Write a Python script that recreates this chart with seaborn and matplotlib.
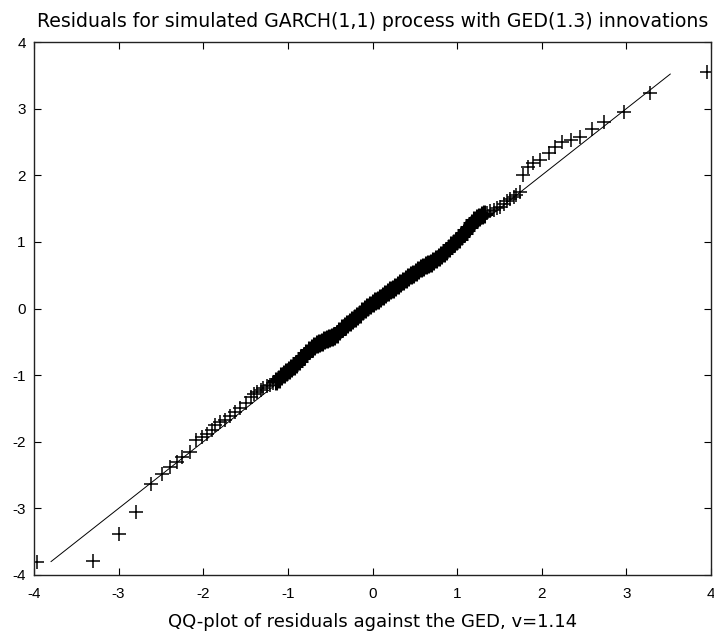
import matplotlib
matplotlib.use("Agg")
import matplotlib.pyplot as plt
import seaborn as sns
import pandas as pd

# ---- data ----
lower_tail_x = [-3.96, -3.30, -2.99, -2.79, -2.62, -2.49, -2.39, -2.31, -2.25, -2.16,
                -2.08, -2.02, -1.96, -1.90, -1.86, -1.80, -1.74, -1.68, -1.62, -1.56,
                -1.50, -1.44, -1.40, -1.36, -1.32, -1.29, -1.25, -1.21, -1.17]
lower_tail_y = [-3.80, -3.79, -3.38, -3.06, -2.63, -2.48, -2.38, -2.30, -2.23, -2.16,
                -1.97, -1.93, -1.88, -1.83, -1.75, -1.70, -1.68, -1.62, -1.55, -1.50,
                -1.42, -1.33, -1.29, -1.25, -1.22, -1.19, -1.17, -1.15, -1.12]

body_x = [-1.14, -1.11, -1.08, -1.05, -1.02, -0.99, -0.96, -0.93, -0.90, -0.87,
          -0.84, -0.81, -0.78, -0.75, -0.72, -0.69, -0.66, -0.63, -0.60, -0.57,
          -0.54, -0.51, -0.48, -0.45, -0.42, -0.39, -0.36, -0.33, -0.30, -0.27,
          -0.24, -0.21, -0.18, -0.15, -0.12, -0.09, -0.06, -0.03, 0.00, 0.03,
          0.06, 0.09, 0.12, 0.15, 0.18, 0.21, 0.24, 0.27, 0.30, 0.33,
          0.36, 0.39, 0.42, 0.45, 0.48, 0.51, 0.54, 0.57, 0.60, 0.63,
          0.66, 0.69, 0.72, 0.75, 0.78, 0.81, 0.84, 0.87, 0.90, 0.93,
          0.96, 0.99, 1.02, 1.05, 1.08, 1.11, 1.14, 1.17, 1.20, 1.23,
          1.26, 1.29, 1.32]
body_y = [-1.09, -1.06, -1.02, -0.99, -0.95, -0.92, -0.89, -0.86, -0.83, -0.79,
          -0.75, -0.71, -0.67, -0.62, -0.59, -0.56, -0.54, -0.52, -0.50, -0.48,
          -0.46, -0.44, -0.43, -0.41, -0.38, -0.34, -0.30, -0.27, -0.24, -0.21,
          -0.18, -0.15, -0.12, -0.08, -0.04, -0.01, 0.03, 0.06, 0.09, 0.11,
          0.13, 0.16, 0.19, 0.22, 0.25, 0.28, 0.30, 0.33, 0.36, 0.38,
          0.41, 0.44, 0.47, 0.50, 0.52, 0.55, 0.58, 0.61, 0.63, 0.65,
          0.67, 0.69, 0.72, 0.74, 0.77, 0.80, 0.83, 0.87, 0.91, 0.95,
          0.99, 1.02, 1.05, 1.09, 1.13, 1.18, 1.23, 1.28, 1.33, 1.36,
          1.38, 1.40, 1.42]

upper_tail_x = [1.35, 1.39, 1.43, 1.47, 1.51, 1.55, 1.59, 1.63, 1.67, 1.70,
                1.74, 1.78, 1.84, 1.90, 1.98, 2.08, 2.16, 2.24, 2.34, 2.45,
                2.59, 2.74, 2.97, 3.28, 3.95]
upper_tail_y = [1.43, 1.46, 1.48, 1.51, 1.53, 1.57, 1.61, 1.64, 1.68, 1.71,
                1.75, 2.00, 2.13, 2.18, 2.23, 2.33, 2.43, 2.50, 2.53, 2.58,
                2.69, 2.80, 2.95, 3.23, 3.55]

ref_x = [-3.80, 3.52]
ref_y = [-3.80, 3.52]

ticks = [-4, -3, -2, -1, 0, 1, 2, 3, 4]
title_text = "Residuals for simulated GARCH(1,1) process with GED(1.3) innovations"
xlabel_text = "QQ-plot of residuals against the GED, v=1.14"

# ---- build ----
tails = pd.DataFrame({
    "theoretical": lower_tail_x + upper_tail_x,
    "residual": lower_tail_y + upper_tail_y,
})
body = pd.DataFrame({"theoretical": body_x, "residual": body_y})
ref = pd.DataFrame({"x": ref_x, "y": ref_y})

sns.set_theme(style="white")
plt.rcParams["font.family"] = ["Liberation Sans", "DejaVu Sans"]
plt.rcParams["axes.unicode_minus"] = False

fig = plt.figure(figsize=(7.14, 6.34), dpi=100)
ax = fig.add_axes([34 / 714, (634 - 575) / 634, 677 / 714, 533 / 634])

sns.lineplot(data=ref, x="x", y="y", ax=ax, color="black", linewidth=0.7,
             estimator=None, sort=False)
sns.scatterplot(data=body, x="theoretical", y="residual", ax=ax, marker="+",
                color="black", s=160, linewidth=2.2, legend=False)
sns.scatterplot(data=tails, x="theoretical", y="residual", ax=ax, marker="+",
                color="black", s=95, linewidth=1.1, legend=False)

ax.set_xlim(-4, 4)
ax.set_ylim(-4, 4)
ax.set_xticks(ticks)
ax.set_yticks(ticks)
ax.set_xticklabels([str(t) for t in ticks])
ax.set_yticklabels([str(t) for t in ticks])
ax.tick_params(direction="in", length=5, width=0.8, colors="black",
               labelsize=11, top=True, right=True, bottom=True, left=True)
ax.tick_params(axis="x", pad=9)
ax.tick_params(axis="y", pad=6)
for sp in ax.spines.values():
    sp.set_color("#222222")
    sp.set_linewidth(1.0)
ax.set_xlabel(xlabel_text, fontsize=13, color="black", labelpad=8,
              family=["DejaVu Sans"])
ax.set_ylabel("")
ax.set_title(title_text, fontsize=13.6, color="black", pad=11,
             family=["DejaVu Sans"])

fig.savefig("out.png", dpi=100, facecolor="white")
